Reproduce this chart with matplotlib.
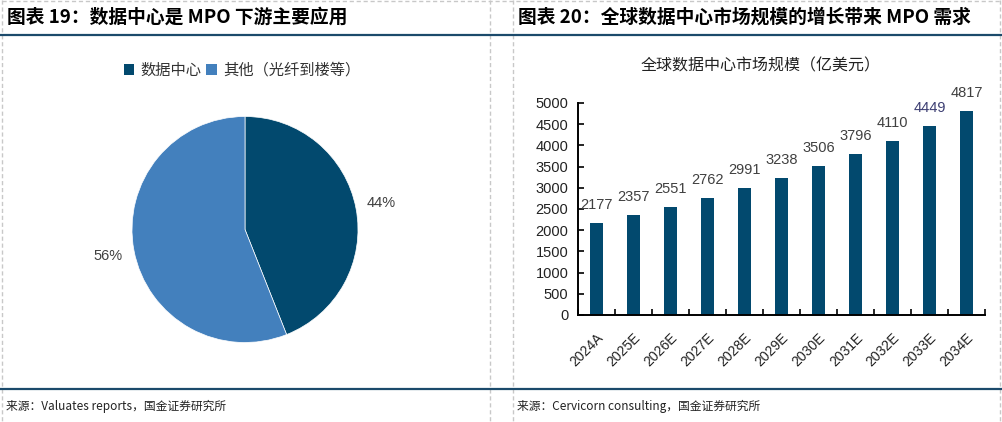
import numpy as np
import matplotlib
matplotlib.use('Agg')
import matplotlib.pyplot as plt
from matplotlib.patches import Patch
from matplotlib.lines import Line2D

plt.rcParams['font.family'] = ['Noto Sans CJK SC', 'DejaVu Sans']

# left: pie
pie_labels = ['数据中心', '其他（光纤到楼等）']
pie_values = [44, 56]
pie_colors = ['#02496e', '#4380bd']

# right: bars
years = ['2024A', '2025E', '2026E', '2027E', '2028E', '2029E',
         '2030E', '2031E', '2032E', '2033E', '2034E']
market = [2177, 2357, 2551, 2762, 2991, 3238, 3506, 3796, 4110, 4449, 4817]
bar_color = '#02496e'

W, H = 1002, 422
fig = plt.figure(figsize=(W / 100, H / 100), dpi=100)
fig.patch.set_facecolor('white')

def fx(px):
    return px / W

def fy(py):
    return 1 - py / H

# frame lines
navy = '#1b4a6b'
dash = dict(color='#c8c8c8', linewidth=1, linestyle=(0, (3, 2)))
for x in (2, 490, 513, 1000):
    fig.add_artist(Line2D([fx(x), fx(x)], [fy(0), fy(H)], **dash))
fig.add_artist(Line2D([fx(2), fx(1000)], [fy(1), fy(1)], **dash))
fig.add_artist(Line2D([fx(0), fx(W)], [fy(35), fy(35)], color=navy, linewidth=1.6))
fig.add_artist(Line2D([fx(0), fx(W)], [fy(389), fy(389)], color=navy, linewidth=1.6))

# titles and sources
fig.text(fx(7), fy(17), '图表 19：数据中心是 MPO 下游主要应用', fontsize=13.5,
         fontweight='bold', style='italic', va='center', ha='left', color='black')
fig.text(fx(518), fy(17), '图表 20：全球数据中心市场规模的增长带来 MPO 需求', fontsize=13.5,
         fontweight='bold', style='italic', va='center', ha='left', color='black')
fig.text(fx(6), fy(406), '来源：Valuates reports，国金证券研究所', fontsize=8.5,
         va='center', ha='left', color='#222222')
fig.text(fx(517), fy(406), '来源：Cervicorn consulting，国金证券研究所', fontsize=8.5,
         va='center', ha='left', color='#222222')

# pie
cx, cy, R = 245, 229.5, 113
ax1 = fig.add_axes([fx(cx - R), fy(cy + R), (2 * R) / W, (2 * R) / H])
wedges, texts, autotexts = ax1.pie(
    pie_values, colors=pie_colors, startangle=90, counterclock=False,
    autopct='%d%%', pctdistance=1.23,
    wedgeprops=dict(edgecolor='white', linewidth=0.5))
for t in autotexts:
    t.set_fontfamily('Liberation Sans')
    t.set_fontsize(10.5)
    t.set_color('#404040')
ax1.set_xlim(-1, 1)
ax1.set_ylim(-1, 1)

handles = [Patch(facecolor=c, edgecolor='none') for c in pie_colors]
fig.legend(handles, pie_labels, loc='center', bbox_to_anchor=(fx(242), fy(70)),
           ncol=2, frameon=False, fontsize=11, handlelength=0.7, handleheight=0.7,
           handletextpad=0.4, columnspacing=0.3, labelcolor='#333333')

# bars
ax2 = fig.add_axes([fx(578), fy(315), fx(985 - 578), (315 - 103) / H])
x = np.arange(len(years))
ax2.bar(x, market, width=0.35, color=bar_color, zorder=2)
ax2.set_xlim(-0.5, len(years) - 0.5)
ax2.set_ylim(0, 5000)
ax2.set_yticks(np.arange(0, 5001, 500))
ax2.set_xticks(x)
ax2.set_xticklabels(years, rotation=45, ha='right', rotation_mode='anchor',
                    fontfamily='Liberation Sans', fontsize=10, color='#222222')
ax2.set_xticks(np.arange(-0.5, len(years), 1), minor=True)
ax2.tick_params(axis='x', which='major', length=0, pad=11)
ax2.tick_params(axis='x', which='minor', direction='in', length=4, width=1.2)
ax2.tick_params(axis='y', direction='in', length=4, width=1.2, labelsize=10.5,
                labelcolor='#222222', pad=7)
for lab in ax2.get_yticklabels():
    lab.set_fontfamily('Liberation Sans')
for s in ('top', 'right'):
    ax2.spines[s].set_visible(False)
for s in ('left', 'bottom'):
    ax2.spines[s].set_linewidth(1.4)
    ax2.spines[s].set_color('black')

label_colors = ['#404040'] * len(market)
label_colors[9] = '#3d3f73'
for i, v in enumerate(market):
    ax2.annotate(str(v), (x[i], v), xytext=(0, 8), textcoords='offset points',
                 ha='center', va='bottom', fontsize=10.5, fontfamily='Liberation Sans',
                 color=label_colors[i], annotation_clip=False)

fig.text(fx(761), fy(66), '全球数据中心市场规模（亿美元）', fontsize=11.5,
         ha='center', va='center', color='#222222')

fig.savefig('out.png', dpi=100, facecolor='white')
